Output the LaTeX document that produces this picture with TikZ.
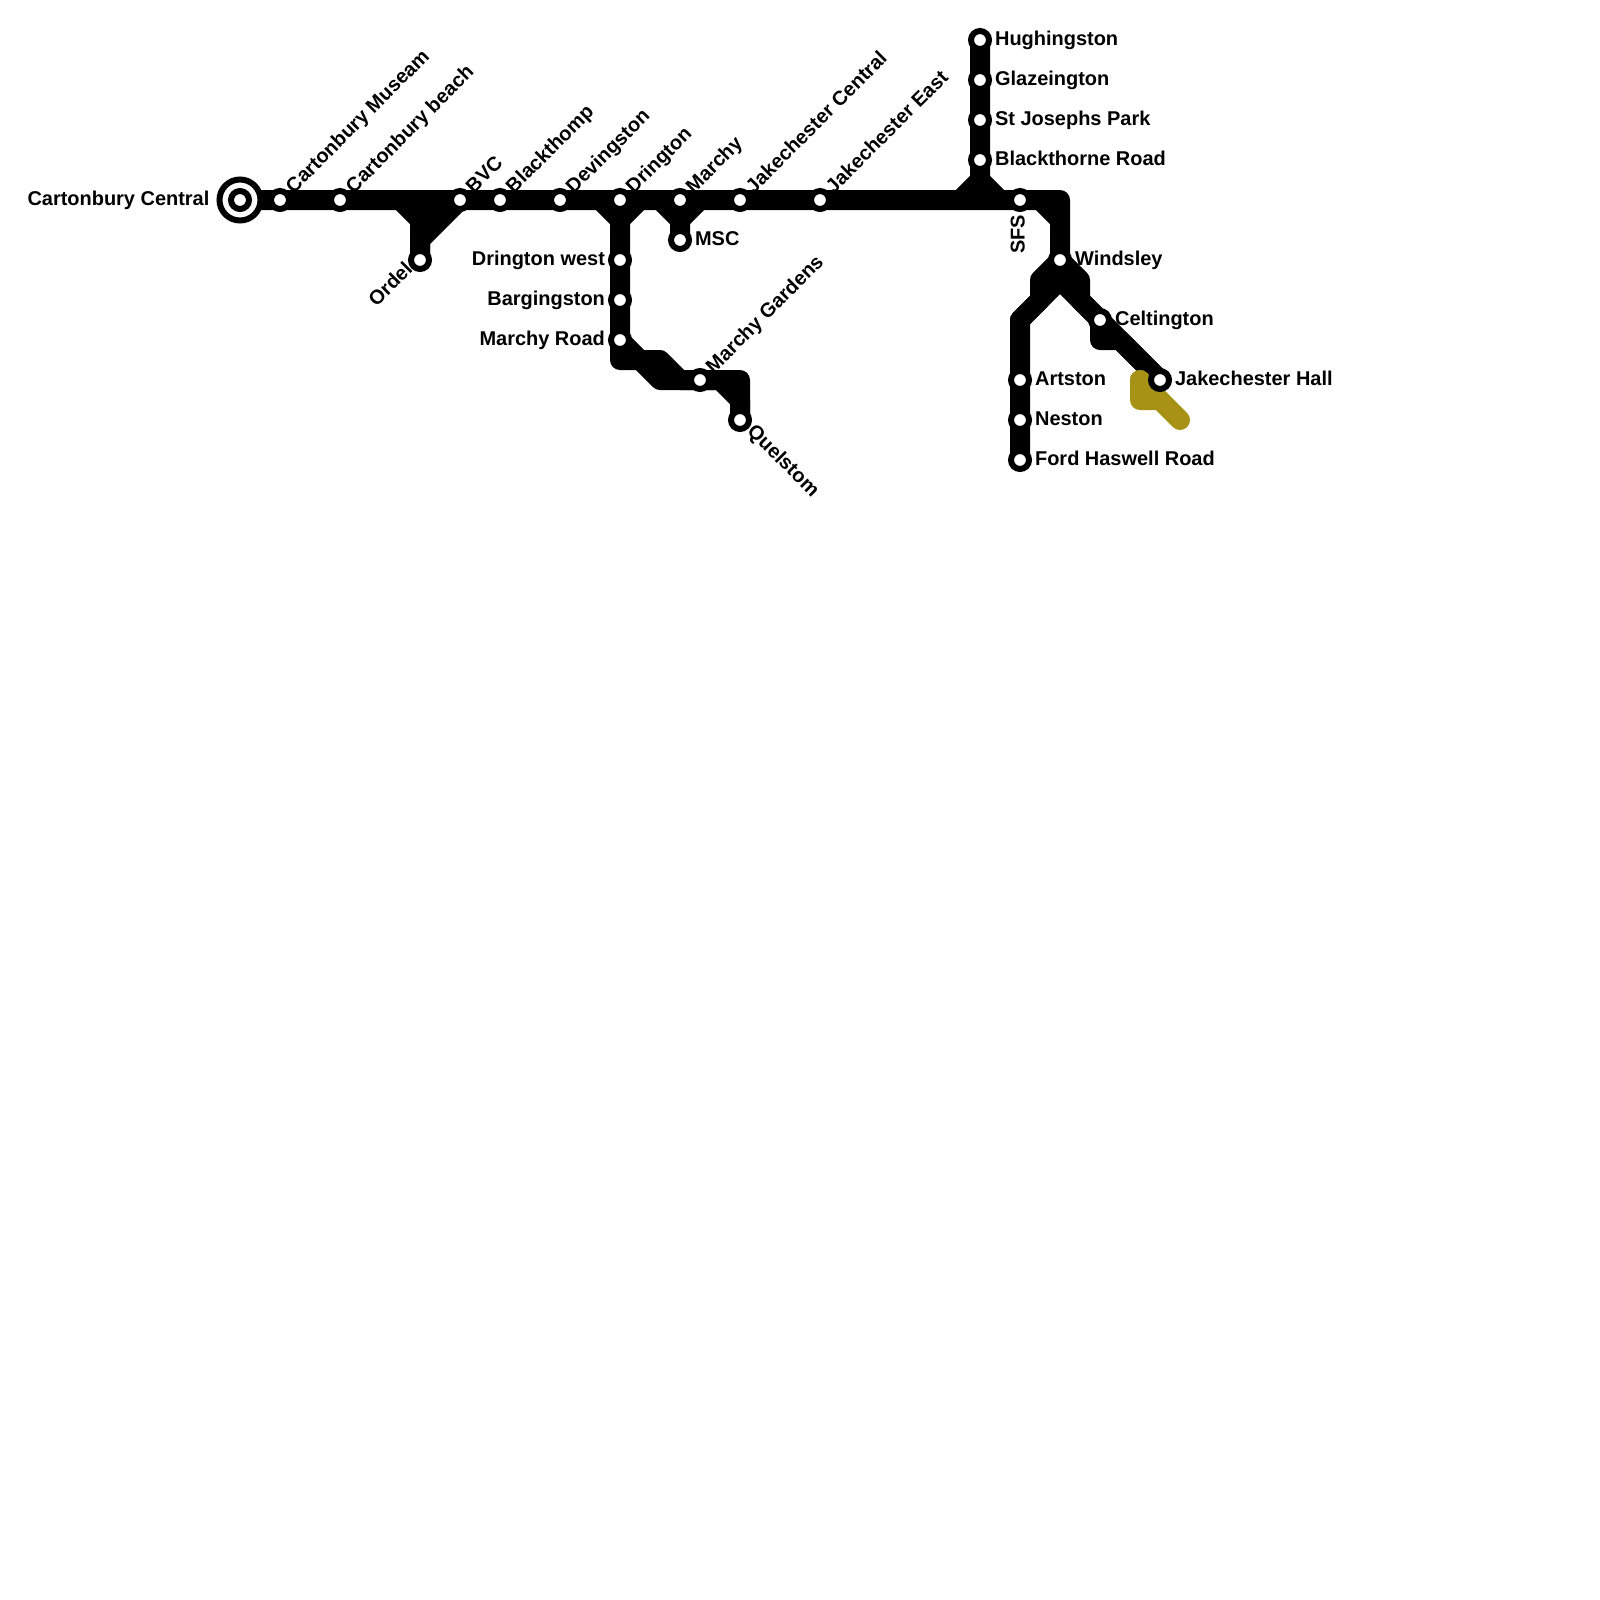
\documentclass[tikz,border=0pt]{standalone}
\usepackage{fontspec}
\setmainfont{Liberation Sans}
\usepackage{xcolor}
\usetikzlibrary{positioning,backgrounds}
\definecolor{ink}  {HTML}{000000}
\definecolor{olive}{HTML}{A89216}
\tikzset{
  stn/.style      ={circle, draw=ink, fill=white, line width=0.15cm,
                    minimum size=0.45cm, inner sep=0pt},
  hub/.style      ={circle, draw=ink, fill=white, line width=0.15cm,
                    minimum size=1.025cm, inner sep=0pt},
  route/.style    ={draw=ink, line width=0.5cm, line join=round, line cap=round},
  oliveroute/.style={route, draw=olive},
  lbl/.style      ={font=\fontsize{14.2pt}{16pt}\bfseries, text=ink, inner sep=0pt,
                    text height=0.375cm, text depth=0.1cm},
  dlbl/.style     ={lbl, rotate=45, anchor=west, xshift=0.345cm, yshift=-0.005cm},
  qlbl/.style     ={lbl, rotate=-45, anchor=west, xshift=0.33cm, yshift=0.03cm},
}

\begin{document}
\begin{tikzpicture}[x=0.5cm,y=-0.5cm]
  \useasboundingbox (0,0) rectangle (80,80);

  % stations along the top
  \node[hub] (centralring) at (12,10) {};
  \node[stn] (central) at (12,10) {};
  \node[stn] (museam) at (14,10) {};
  \node[stn] (beach) at (17,10) {};
  \node[stn] (ordel) at (21,13) {};
  \node[stn] (bvc) at (23,10) {};
  \node[stn] (blackthomp) at (25,10) {};
  \node[stn] (devingston) at (28,10) {};
  \node[stn] (drington) at (31,10) {};
  \node[stn] (marchy) at (34,10) {};
  \node[stn] (msc) at (34,12) {};
  \node[stn] (jakecentral) at (37,10) {};
  \node[stn] (jakeeast) at (41,10) {};

  \node[stn] (dringwest) at (31,13) {};
  \node[stn] (bargingston) at (31,15) {};
  \node[stn] (marchyroad) at (31,17) {};
  \node[stn] (gardens) at (35,19) {};
  \node[stn] (quelstom) at (37,21) {};

  \node[stn] (hughingston) at (49,2) {};
  \node[stn] (glazeington) at (49,4) {};
  \node[stn] (stjosephs) at (49,6) {};
  \node[stn] (blackthorne) at (49,8) {};
  \node[stn] (sfs) at (51,10) {};
  \node[stn] (windsley) at (53,13) {};
  \node[stn] (celtington) at (55,16) {};
  \node[stn] (jakehall) at (58,19) {};
  \node[stn] (artston) at (51,19) {};
  \node[stn] (neston) at (51,21) {};
  \node[stn] (ford) at (51,23) {};

  % bends of the lines
  \coordinate (ordelL) at (20,10);
  \coordinate (ordelR) at (22,10);
  \coordinate (ordelM) at (21,11);
  \coordinate (ordelN) at (21,12);
  \coordinate (drL) at (30,10);
  \coordinate (drM) at (31,11);
  \coordinate (drR) at (32,10);
  \coordinate (maL) at (33,10);
  \coordinate (maM) at (34,11);
  \coordinate (maR) at (35,10);
  \coordinate (lowA) at (31,18);
  \coordinate (lowB) at (33,18);
  \coordinate (lowC) at (34,19);
  \coordinate (lowD) at (37,19);
  \coordinate (lowE) at (32,18);
  \coordinate (lowF) at (33,19);
  \coordinate (lowG) at (36,19);
  \coordinate (lowH) at (37,20);
  \coordinate (blM) at (49,9);
  \coordinate (blL) at (48,10);
  \coordinate (blR) at (50,10);
  \coordinate (corner) at (53,10);
  \coordinate (cutA) at (52,10);
  \coordinate (cutB) at (53,11);
  \coordinate (fork) at (53,14);
  \coordinate (forkL) at (52,14);
  \coordinate (forkLb) at (52,15);
  \coordinate (forkR) at (54,14);
  \coordinate (forkRb) at (54,15);
  \coordinate (swing) at (51,16);
  \coordinate (celA) at (55,17);
  \coordinate (celB) at (56,17);
  \coordinate (olA) at (57,19);
  \coordinate (olB) at (57,20);
  \coordinate (olC) at (58,20);
  \coordinate (olD) at (59,21);

  \begin{scope}[on background layer]
    \draw[route] (central.center) -- (corner) -- (windsley.center) -- (fork) -- (swing) -- (ford.center);
    \draw[route] (fork) -- (celtington.center) -- (jakehall.center);
    \draw[route] (windsley.center) -- (forkL) -- (forkLb) -- (swing);
    \draw[route] (windsley.center) -- (forkR) -- (forkRb) -- (celtington.center);
    \draw[route] (celtington.center) -- (celA) -- (celB) -- (jakehall.center);
    \draw[route] (cutA) -- (cutB);
    \draw[route] (hughingston.center) -- (blM) -- (blL);
    \draw[route] (blM) -- (blR);
    \draw[route] (ordelL) -- (ordelM) -- (ordel.center);
    \draw[route] (ordelR) -- (ordelM);
    \draw[route] (bvc.center) -- (ordelN) -- (ordel.center);
    \draw[route] (drL) -- (drM) -- (lowA) -- (lowB) -- (lowC) -- (lowD) -- (quelstom.center);
    \draw[route] (drR) -- (drM);
    \draw[route] (marchyroad.center) -- (lowE) -- (lowF) -- (lowG) -- (lowH) -- (quelstom.center);
    \draw[route] (maL) -- (maM) -- (msc.center);
    \draw[route] (maR) -- (maM);
    \draw[oliveroute] (olA) -- (olB) -- (olC) -- (olD);
    \draw[oliveroute] (olA) -- (olC);
  \end{scope}

  % names
  \node[lbl,left=0.17cm of centralring] (centraltxt) {Cartonbury Central};
  \node[dlbl] (museamtxt) at (museam) {Cartonbury Museam};
  \node[dlbl] (beachtxt) at (beach) {Cartonbury beach};
  \node[dlbl] (bvctxt) at (bvc) {BVC};
  \node[dlbl] (blackthomptxt) at (blackthomp) {Blackthomp};
  \node[dlbl] (devingstontxt) at (devingston) {Devingston};
  \node[dlbl] (dringtontxt) at (drington) {Drington};
  \node[dlbl] (marchytxt) at (marchy) {Marchy};
  \node[dlbl] (jakecentraltxt) at (jakecentral) {Jakechester Central};
  \node[dlbl] (jakeeasttxt) at (jakeeast) {Jakechester East};
  \node[dlbl] (gardenstxt) at (gardens) {Marchy Gardens};
  \node[qlbl] (quelstomtxt) at (quelstom) {Quelstom};
  \node[lbl,rotate=45,anchor=east,xshift=-0.29cm,yshift=0.07cm] (ordeltxt) at (ordel) {Ordel};
  \node[lbl,rotate=90,anchor=east,xshift=-0.37cm,yshift=0.02cm] (sfstxt) at (sfs) {SFS};

  \node[lbl,left=0.07cm of dringwest] (dringwesttxt) {Drington west};
  \node[lbl,left=0.07cm of bargingston] (bargingstontxt) {Bargingston};
  \node[lbl,left=0.07cm of marchyroad] (marchyroadtxt) {Marchy Road};

  \node[lbl,right=0.07cm of msc] (msctxt) {MSC};
  \node[lbl,right=0.07cm of hughingston] (hughingstontxt) {Hughingston};
  \node[lbl,right=0.07cm of glazeington] (glazeingtontxt) {Glazeington};
  \node[lbl,right=0.07cm of stjosephs] (stjosephstxt) {St Josephs Park};
  \node[lbl,right=0.07cm of blackthorne] (blackthornetxt) {Blackthorne Road};
  \node[lbl,right=0.07cm of windsley] (windsleytxt) {Windsley};
  \node[lbl,right=0.07cm of celtington] (celtingtontxt) {Celtington};
  \node[lbl,right=0.07cm of jakehall] (jakehalltxt) {Jakechester Hall};
  \node[lbl,right=0.07cm of artston] (artstontxt) {Artston};
  \node[lbl,right=0.07cm of neston] (nestontxt) {Neston};
  \node[lbl,right=0.07cm of ford] (fordtxt) {Ford Haswell Road};
\end{tikzpicture}
\end{document}
